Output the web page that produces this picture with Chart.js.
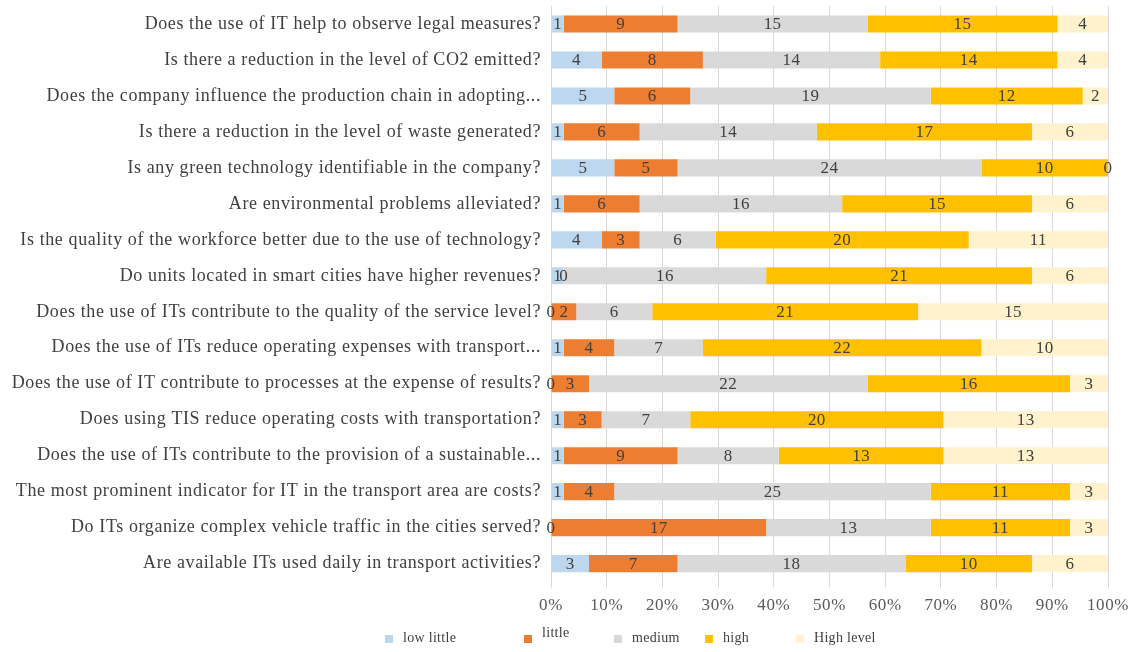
<!DOCTYPE html>
<html>
<head>
<meta charset="utf-8">
<script src="https://cdn.jsdelivr.net/npm/chart.js@4.4.1/dist/chart.umd.min.js"></script>
<style>
  html, body { margin: 0; padding: 0; background: #fff; }
  #wrap { width: 1147px; height: 652px; position: relative; }
</style>
</head>
<body>
<div id="wrap"><canvas id="chart" width="1147" height="652"></canvas></div>
<script>
// questions, top to bottom
const questions = [
  'Does the use of IT help to observe legal measures?',
  'Is there a reduction in the level of CO2 emitted?',
  'Does the company influence the production chain in adopting...',
  'Is there a reduction in the level of waste generated?',
  'Is any green technology identifiable in the company?',
  'Are environmental problems alleviated?',
  'Is the quality of the workforce better due to the use of technology?',
  'Do units located in smart cities have higher revenues?',
  'Does the use of ITs contribute to the quality of the service level?',
  'Does the use of ITs reduce operating expenses with transport...',
  'Does the use of IT contribute to processes at the expense of results?',
  'Does using TIS reduce operating costs with transportation?',
  'Does the use of ITs contribute to the provision of a sustainable...',
  'The most prominent indicator for IT in the transport area are costs?',
  'Do ITs organize complex vehicle traffic in the cities served?',
  'Are available ITs used daily in transport activities?'
];

const lowLittle = [1, 4, 5, 1, 5, 1, 4, 1, 0, 1, 0, 1, 1, 1, 0, 3];
const little    = [9, 8, 6, 6, 5, 6, 3, 0, 2, 4, 3, 3, 9, 4, 17, 7];
const medium    = [15, 14, 19, 14, 24, 16, 6, 16, 6, 7, 22, 7, 8, 25, 13, 18];
const high      = [15, 14, 12, 17, 10, 15, 20, 21, 21, 22, 16, 20, 13, 11, 11, 10];
const highLevel = [4, 4, 2, 6, 0, 6, 11, 6, 15, 10, 3, 13, 13, 3, 3, 6];

const seriesNames = ['low little', 'little', 'medium', 'high', 'High level'];
const seriesColors = ['#BDD7EE', '#ED7D31', '#D9D9D9', '#FFC000', '#FFF2CC'];
const allSeries = [lowLittle, little, medium, high, highLevel];

const xTicks = [0, 10, 20, 30, 40, 50, 60, 70, 80, 90, 100];

const totals = questions.map((q, i) => allSeries.reduce((s, arr) => s + arr[i], 0));

const FONT = "'Liberation Serif', 'Times New Roman', serif";
const TEXT = '#404040';
const SPACING = '0.6px';

const datasets = allSeries.map((arr, k) => ({
  label: seriesNames[k],
  raw: arr,
  data: arr.map((v, i) => v / totals[i] * 100),
  backgroundColor: seriesColors[k],
  borderWidth: 0,
  barPercentage: 0.95,
  categoryPercentage: 0.5
}));

// the original text is drawn wide, so space the letters out a little
const spacing = {
  id: 'spacing',
  beforeUpdate(chart) { chart.ctx.letterSpacing = SPACING; },
  beforeDraw(chart) { chart.ctx.letterSpacing = SPACING; }
};

// numbers drawn in the middle of each segment
const segLabels = {
  id: 'segLabels',
  afterDatasetsDraw(chart) {
    const ctx = chart.ctx;
    ctx.save();
    ctx.font = '17px ' + FONT;
    ctx.letterSpacing = '0.4px';
    ctx.fillStyle = TEXT;
    ctx.textAlign = 'center';
    ctx.textBaseline = 'middle';
    chart.data.datasets.forEach((ds, k) => {
      chart.getDatasetMeta(k).data.forEach((bar, i) => {
        const cx = (bar.x + bar.base) / 2;
        ctx.fillText(String(ds.raw[i]), cx, bar.y + 1);
      });
    });
    ctx.restore();
  }
};

// legend drawn under the axis, like the original
const bottomLegend = {
  id: 'bottomLegend',
  afterDraw(chart) {
    const ctx = chart.ctx;
    const xs = [385, 524, 614, 705, 796];
    const y = 638;
    ctx.save();
    ctx.font = '14px ' + FONT;
    ctx.letterSpacing = '0.3px';
    ctx.textBaseline = 'middle';
    ctx.textAlign = 'left';
    seriesNames.forEach((name, k) => {
      ctx.fillStyle = seriesColors[k];
      ctx.fillRect(xs[k], y - 3, 8, 8);
      ctx.fillStyle = TEXT;
      ctx.fillText(name, xs[k] + 18, k === 1 ? y - 5 : y);
    });
    ctx.restore();
  }
};

new Chart(document.getElementById('chart'), {
  type: 'bar',
  data: { labels: questions, datasets: datasets },
  options: {
    indexAxis: 'y',
    responsive: false,
    animation: false,
    layout: { padding: { top: 6, right: 39, bottom: 28, left: 0 } },
    plugins: {
      legend: { display: false },
      tooltip: { enabled: false }
    },
    scales: {
      x: {
        stacked: true,
        min: 0,
        max: 100,
        afterBuildTicks(scale) { scale.ticks = xTicks.map(v => ({ value: v })); },
        grid: { color: '#D9D9D9', drawTicks: true, tickLength: 6 },
        border: { display: false },
        ticks: {
          callback: v => v + '%',
          color: '#595959',
          font: { family: FONT, size: 17 },
          padding: 8,
          maxRotation: 0
        }
      },
      y: {
        stacked: true,
        afterFit(scale) {
          scale.width = 551;
          scale.paddingTop = 0;
          scale.paddingBottom = 0;
        },
        grid: { display: false },
        border: { display: false },
        ticks: {
          color: TEXT,
          font: { family: FONT, size: 18 },
          padding: 2,
          autoSkip: false
        }
      }
    }
  },
  plugins: [spacing, segLabels, bottomLegend]
});
</script>
</body>
</html>
